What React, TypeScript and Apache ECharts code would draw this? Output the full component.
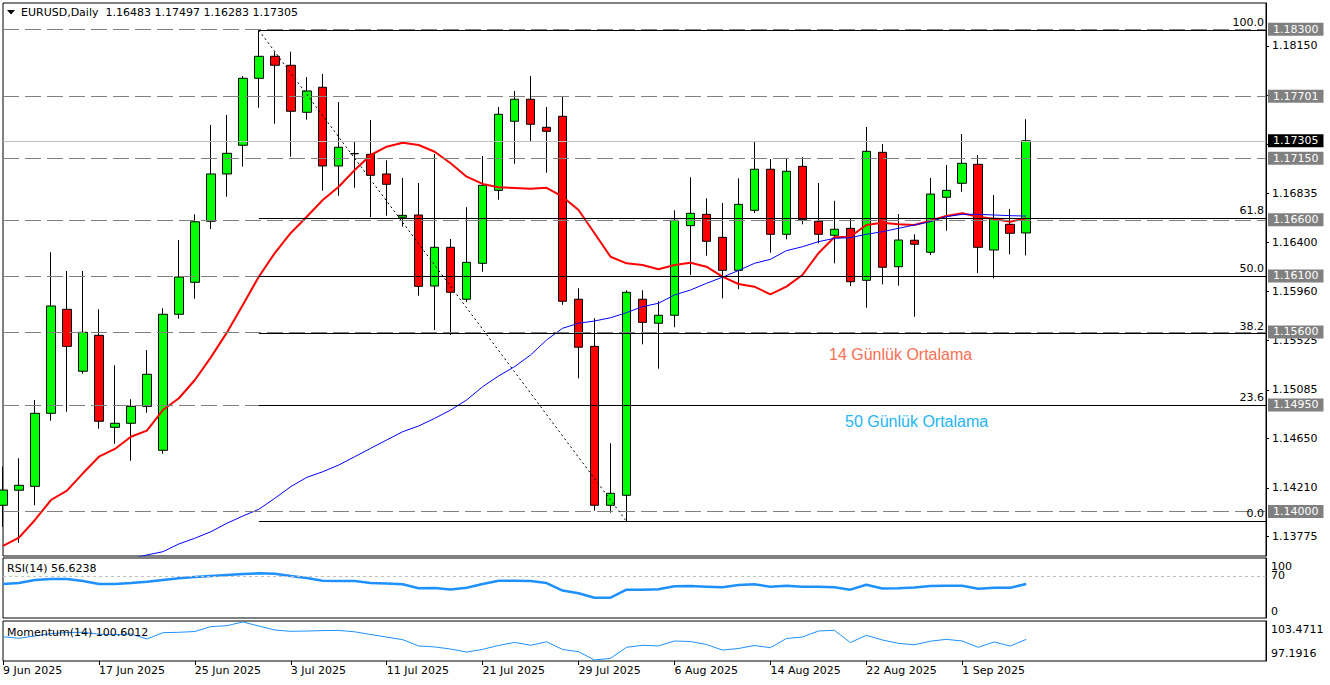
import React, { useEffect, useRef } from "react";
import * as echarts from "echarts";

const dates = [
  "9 Jun 2025","10 Jun 2025","11 Jun 2025","12 Jun 2025","13 Jun 2025","16 Jun 2025","17 Jun 2025","18 Jun 2025","19 Jun 2025","20 Jun 2025",
  "23 Jun 2025","24 Jun 2025","25 Jun 2025","26 Jun 2025","27 Jun 2025","30 Jun 2025","1 Jul 2025","2 Jul 2025","3 Jul 2025","4 Jul 2025",
  "7 Jul 2025","8 Jul 2025","9 Jul 2025","10 Jul 2025","11 Jul 2025","14 Jul 2025","15 Jul 2025","16 Jul 2025","17 Jul 2025","18 Jul 2025",
  "21 Jul 2025","22 Jul 2025","23 Jul 2025","24 Jul 2025","25 Jul 2025","28 Jul 2025","29 Jul 2025","30 Jul 2025","31 Jul 2025","1 Aug 2025",
  "4 Aug 2025","5 Aug 2025","6 Aug 2025","7 Aug 2025","8 Aug 2025","11 Aug 2025","12 Aug 2025","13 Aug 2025","14 Aug 2025","15 Aug 2025",
  "18 Aug 2025","19 Aug 2025","20 Aug 2025","21 Aug 2025","22 Aug 2025","25 Aug 2025","26 Aug 2025","27 Aug 2025","28 Aug 2025","29 Aug 2025",
  "1 Sep 2025","2 Sep 2025","3 Sep 2025","4 Sep 2025","5 Sep 2025"
];
const emptySlots = 15;

const opens = [
  1.14055,1.14189,1.14224,1.14875,1.15802,1.15250,1.15570,1.14750,1.14786,1.14937,
  1.14545,1.15758,1.16043,1.16587,1.17009,1.17265,1.17862,1.18058,1.17978,1.17559,
  1.17782,1.17080,1.17190,1.17184,1.17009,1.16623,1.16643,1.16010,1.16355,1.15892,
  1.16212,1.16863,1.17479,1.17675,1.17425,1.17523,1.15892,1.15472,1.14055,1.14144,
  1.15892,1.15678,1.15749,1.16548,1.16649,1.16444,1.16150,1.16685,1.17051,1.16471,
  1.17077,1.16587,1.16462,1.16524,1.16061,1.17202,1.16182,1.16418,1.16311,1.16801,
  1.16926,1.17095,1.16331,1.16560,1.16483
];
const highs = [
  1.14399,1.14474,1.14994,1.16311,1.16144,1.16144,1.15802,1.15303,1.15000,1.15439,
  1.15811,1.16420,1.16649,1.17446,1.17535,1.17882,1.18290,1.18099,1.18099,1.17873,
  1.17900,1.17651,1.17294,1.17490,1.17131,1.16973,1.16928,1.17187,1.16429,1.16712,
  1.17169,1.17606,1.17749,1.17882,1.17606,1.17695,1.15990,1.15722,1.14608,1.15972,
  1.15972,1.15874,1.16685,1.16979,1.16792,1.16750,1.16970,1.17300,1.17142,1.17142,
  1.17158,1.16928,1.16770,1.16614,1.17428,1.17276,1.16652,1.16471,1.16973,1.17089,
  1.17365,1.17178,1.16821,1.16697,1.17497
];
const lows = [
  1.13864,1.13721,1.14055,1.14809,1.14889,1.15228,1.14738,1.14604,1.14452,1.14880,
  1.14515,1.15719,1.15897,1.16518,1.16806,1.17074,1.17600,1.17457,1.17163,1.17493,
  1.16860,1.16815,1.16886,1.16623,1.16637,1.16539,1.15924,1.15618,1.15573,1.15867,
  1.16138,1.16780,1.17100,1.17297,1.17020,1.15843,1.15187,1.14007,1.13989,1.13912,
  1.15490,1.15273,1.15642,1.16108,1.16280,1.15900,1.15981,1.16661,1.16307,1.16426,
  1.16560,1.16391,1.16212,1.16010,1.15817,1.16025,1.16013,1.15736,1.16286,1.16503,
  1.16851,1.16126,1.16079,1.16293,1.16283
];
const closes = [
  1.14191,1.14233,1.14875,1.15832,1.15472,1.15597,1.14804,1.14786,1.14937,1.15223,
  1.15758,1.16090,1.16583,1.17009,1.17193,1.17862,1.18058,1.17978,1.17568,1.17749,
  1.17080,1.17247,1.17190,1.16997,1.16917,1.16640,1.16007,1.16355,1.15954,1.16221,
  1.16908,1.17541,1.17675,1.17452,1.17389,1.15874,1.15464,1.14055,1.14162,1.15954,
  1.15686,1.15749,1.16596,1.16658,1.16409,1.16150,1.16738,1.17051,1.16471,1.17033,
  1.16601,1.16471,1.16516,1.16048,1.17211,1.16177,1.16420,1.16382,1.16830,1.16863,
  1.17104,1.16355,1.16614,1.16480,1.17305
];

const ma14 = [
  1.13692,1.13766,1.13924,1.14102,1.14185,1.14340,1.14488,1.14557,1.14666,1.14720,
  1.14904,1.15009,1.15172,1.15374,1.15594,1.15841,1.16093,1.16304,1.16483,1.16628,
  1.16777,1.16895,1.17044,1.17178,1.17252,1.17288,1.17267,1.17207,1.17104,1.16985,
  1.16920,1.16890,1.16884,1.16878,1.16886,1.16806,1.16688,1.16480,1.16271,1.16212,
  1.16197,1.16159,1.16197,1.16218,1.16182,1.16093,1.16028,1.16004,1.15936,1.16004,
  1.16108,1.16302,1.16444,1.16450,1.16554,1.16574,1.16560,1.16554,1.16592,1.16634,
  1.16658,1.16628,1.16607,1.16583,1.16614
];
const ma50 = [
  null,null,null,null,null,null,null,null,1.13576,1.13612,
  1.13641,1.13710,1.13761,1.13819,1.13894,1.13959,1.14019,1.14117,1.14221,1.14304,
  1.14354,1.14414,1.14488,1.14563,1.14637,1.14711,1.14762,1.14830,1.14904,1.14994,
  1.15112,1.15208,1.15291,1.15395,1.15529,1.15633,1.15678,1.15698,1.15727,1.15772,
  1.15826,1.15856,1.15930,1.15974,1.16034,1.16088,1.16148,1.16212,1.16248,1.16325,
  1.16360,1.16405,1.16435,1.16441,1.16471,1.16494,1.16524,1.16554,1.16583,1.16628,
  1.16649,1.16649,1.16643,1.16637,1.16634
];
const rsi = [
  56.7,58.3,63.3,65.0,65.0,61.7,56.7,56.7,58.3,60.5,
  63.3,66.1,68.3,70.0,71.7,73.3,74.5,73.8,70.0,66.7,
  62.2,61.7,61.7,58.3,57.5,56.2,49.5,50.0,47.5,50.5,
  56.7,62.2,62.2,61.7,58.3,45.8,41.2,33.8,33.8,47.2,
  47.2,47.8,52.8,53.3,52.2,51.1,55.0,56.1,52.2,53.8,
  52.2,52.2,51.1,47.2,55.5,49.2,49.5,50.8,53.3,53.8,
  53.8,48.8,50.5,50.5,56.6238
];
const momentum = [
  101.04,100.78,101.16,101.54,101.74,101.77,101.45,101.37,101.49,100.66,
  101.70,101.77,101.90,102.71,102.86,103.4711,102.81,102.15,101.93,101.98,
  102.05,102.08,101.85,101.40,100.98,100.55,99.51,99.35,99.00,98.50,
  98.95,99.60,100.10,99.62,100.20,98.93,98.56,97.1916,97.47,99.29,
  99.62,99.51,100.33,100.25,99.75,98.84,99.09,99.59,99.22,100.74,
  100.99,101.98,102.10,100.08,101.27,100.50,99.95,99.70,100.30,100.60,
  100.33,99.29,100.17,99.50,100.6012
];

const priceLevels = [1.183, 1.17701, 1.1715, 1.166, 1.161, 1.156, 1.1495, 1.14];
const lastPrice = 1.17305;
const fibHigh = 1.1829;
const fibLow = 1.13912;
const fibHighIndex = 16;
const fibLowIndex = 39;
const fibRatios = [100, 61.8, 50, 38.2, 23.6, 0];
const priceTickValues = [1.13775, 1.1421, 1.1465, 1.15085, 1.15525, 1.1596, 1.164, 1.16835, 1.17275, 1.17712, 1.1815];
const priceLabelValues = [1.13775, 1.1421, 1.1465, 1.15085, 1.15525, 1.1596, 1.164, 1.16835, 1.1815];
const rsiLowerLabelValues = [0, 70];
const rsiTopLabelValues = [100];
const rsiLevel = 70;
const momentumLabelValues = [97.1916, 103.4711];
const dateLabelStep = 6;
const titleText = "EURUSD,Daily  1.16483 1.17497 1.16283 1.17305";
const rsiTitle = "RSI(14) 56.6238";
const momentumTitle = "Momentum(14) 100.6012";
const ma14Text = "14 Günlük Ortalama";
const ma50Text = "50 Günlük Ortalama";

const FONT = '"DejaVu Sans", Tahoma, sans-serif';

export default function App() {
  const ref = useRef<HTMLDivElement>(null);

  useEffect(() => {
    if (!ref.current) return;
    const chart = echarts.init(ref.current, null, { renderer: "svg" });
    const cats = dates.concat(Array.from({ length: emptySlots }, (_, i) => "f" + i));
    const lastIdx = cats.length - 1;
    const ohlc = dates.map((_, i) => [opens[i], closes[i], lows[i], highs[i]]);

    const boxLabel = (text: string, bg: string) => ({
      show: true,
      position: "end",
      distance: 2,
      formatter: text,
      color: "#fff",
      backgroundColor: bg,
      padding: [0, 5, 0, 5],
      lineHeight: 13,
      fontSize: 11,
      fontFamily: FONT,
    });

    const levelLines = priceLevels.map((v) => ({
      yAxis: v,
      lineStyle: { color: "#808080", type: [16, 6], width: 1 },
      label: boxLabel(v.toFixed(5), "#808080"),
    }));
    const lastLine = {
      yAxis: lastPrice,
      lineStyle: { color: "#C0C0C0", type: "solid", width: 1 },
      label: boxLabel(lastPrice.toFixed(5), "#000"),
    };
    const fibLines = fibRatios.map((r) => {
      const p = fibLow + (r / 100) * (fibHigh - fibLow);
      const common = {
        lineStyle: { color: "#000", type: "solid", width: 1 },
        label: {
          show: true,
          position: "insideEndTop",
          distance: 2,
          formatter: r.toFixed(1),
          color: "#000",
          fontSize: 11,
          fontFamily: FONT,
        },
      };
      return [
        { coord: [fibHighIndex, p], ...common },
        { coord: [lastIdx, p], ...common },
      ];
    });
    const diag = [
      { coord: [fibHighIndex, fibHigh], lineStyle: { color: "#000", type: [2, 3], width: 1 }, label: { show: false } },
      { coord: [fibLowIndex, fibLow], lineStyle: { color: "#000", type: [2, 3], width: 1 }, label: { show: false } },
    ];

    const xBase = {
      type: "category",
      data: cats,
      boundaryGap: false,
      axisLine: { show: false },
      axisTick: { show: false },
      axisLabel: { show: false },
      splitLine: { show: false },
    };

    const smallLabel = { color: "#000", fontSize: 11, fontFamily: FONT };

    const option: any = {
      animation: false,
      backgroundColor: "#fff",
      textStyle: { fontFamily: FONT },
      grid: [
        { left: 3, right: 64, top: 3, height: 553, show: true, borderColor: "#000", borderWidth: 1 },
        { left: 3, right: 64, top: 558, height: 60, show: true, borderColor: "#000", borderWidth: 1 },
        { left: 3, right: 64, top: 621, height: 40, show: true, borderColor: "#000", borderWidth: 1 },
      ],
      xAxis: [
        { ...xBase, gridIndex: 0 },
        { ...xBase, gridIndex: 1 },
        {
          ...xBase,
          gridIndex: 2,
          axisTick: {
            show: true,
            length: 4,
            lineStyle: { color: "#000" },
            interval: (idx: number) => idx % dateLabelStep === 0 && idx < dates.length,
          },
          axisLabel: {
            show: true,
            align: "left",
            margin: 4,
            ...smallLabel,
            interval: (idx: number) => idx % dateLabelStep === 0 && idx < dates.length,
          },
        },
      ],
      yAxis: [
        {
          type: "value",
          gridIndex: 0,
          position: "right",
          min: 1.136027,
          max: 1.185333,
          splitLine: { show: false },
          axisLine: { show: true, lineStyle: { color: "#000" } },
          axisTick: { show: true, length: 3, lineStyle: { color: "#000" }, customValues: priceTickValues },
          axisLabel: {
            ...smallLabel,
            margin: 6,
            showMinLabel: true,
            showMaxLabel: true,
            customValues: priceLabelValues,
            formatter: (v: number) => v.toFixed(5),
          },
        },
        {
          type: "value",
          gridIndex: 1,
          position: "right",
          min: 0,
          max: 100,
          splitLine: { show: false },
          axisLine: { show: true, lineStyle: { color: "#000" } },
          axisTick: { show: false },
          axisLabel: {
            ...smallLabel,
            margin: 5,
            showMinLabel: true,
            showMaxLabel: true,
            customValues: rsiLowerLabelValues,
            formatter: (v: number) => (v === 0 ? "{b|0}" : "{m|" + v + "}"),
            rich: {
              b: { ...smallLabel, padding: [0, 0, 14, 0], lineHeight: 13 },
              m: { ...smallLabel, padding: [0, 0, 2, 0], lineHeight: 13 },
            },
          },
        },
        {
          type: "value",
          gridIndex: 2,
          position: "right",
          min: 97.026,
          max: 103.636,
          splitLine: { show: false },
          axisLine: { show: true, lineStyle: { color: "#000" } },
          axisTick: { show: false },
          axisLabel: {
            ...smallLabel,
            margin: 5,
            showMinLabel: true,
            showMaxLabel: true,
            customValues: momentumLabelValues,
            formatter: (v: number) => (v > 100 ? "{t|" + v.toFixed(4) + "}" : "{b|" + v.toFixed(4) + "}"),
            rich: {
              t: { ...smallLabel, padding: [16, 0, 0, 0], lineHeight: 13 },
              b: { ...smallLabel, padding: [0, 0, 12, 0], lineHeight: 13 },
            },
          },
        },
        {
          type: "value",
          gridIndex: 1,
          position: "right",
          min: 0,
          max: 100,
          splitLine: { show: false },
          axisLine: { show: false },
          axisTick: { show: false },
          axisLabel: {
            ...smallLabel,
            margin: 5,
            showMinLabel: true,
            showMaxLabel: true,
            customValues: rsiTopLabelValues,
            formatter: (v: number) => "{t|" + v + "}",
            rich: {
              t: { ...smallLabel, padding: [16, 0, 0, 0], lineHeight: 13 },
            },
          },
        },
      ],
      series: [
        {
          type: "candlestick",
          xAxisIndex: 0,
          yAxisIndex: 0,
          data: ohlc,
          barWidth: 9,
          silent: true,
          z: 2,
          itemStyle: {
            color: "#00FF00",
            color0: "#FF0000",
            borderColor: "#000",
            borderColor0: "#000",
            borderWidth: 1,
          },
        },
        {
          type: "line",
          name: "MA14",
          xAxisIndex: 0,
          yAxisIndex: 0,
          data: ma14,
          showSymbol: false,
          silent: true,
          z: 3,
          lineStyle: { color: "#FF0000", width: 2 },
        },
        {
          type: "line",
          name: "MA50",
          xAxisIndex: 0,
          yAxisIndex: 0,
          data: ma50,
          showSymbol: false,
          silent: true,
          z: 3,
          lineStyle: { color: "#0000FF", width: 1 },
        },
        {
          type: "line",
          name: "objects",
          xAxisIndex: 0,
          yAxisIndex: 0,
          data: dates.map(() => null),
          showSymbol: false,
          silent: true,
          z: 4,
          markLine: {
            silent: true,
            precision: 5,
            symbol: ["none", "none"],
            animation: false,
            data: [...levelLines, lastLine, ...fibLines, diag],
          },
        },
        {
          type: "line",
          name: "RSI",
          xAxisIndex: 1,
          yAxisIndex: 1,
          data: rsi,
          showSymbol: false,
          silent: true,
          lineStyle: { color: "#1E90FF", width: 2.5 },
          markLine: {
            silent: true,
            symbol: ["none", "none"],
            animation: false,
            data: [
              { yAxis: rsiLevel, lineStyle: { color: "#C0C0C0", type: [3, 3], width: 1 }, label: { show: false } },
            ],
          },
        },
        {
          type: "line",
          name: "Momentum",
          xAxisIndex: 2,
          yAxisIndex: 2,
          data: momentum,
          showSymbol: false,
          silent: true,
          lineStyle: { color: "#1E90FF", width: 1 },
        },
      ],
      graphic: [
        { type: "polygon", shape: { points: [[7, 10], [15, 10], [11, 14.5]] }, style: { fill: "#000" } },
        { type: "text", x: 21, y: 12.5, style: { text: titleText, fontSize: 11, fontFamily: FONT, fill: "#000", verticalAlign: "middle" } },
        { type: "text", x: 7, y: 568, z: 10, style: { text: rsiTitle, fontSize: 11, fontFamily: FONT, fill: "#000", verticalAlign: "middle" } },
        { type: "text", x: 7, y: 632, z: 10, style: { text: momentumTitle, fontSize: 11, fontFamily: FONT, fill: "#000", verticalAlign: "middle" } },
        { type: "text", x: 829, y: 354, style: { text: ma14Text, fontSize: 16, fontFamily: '"Liberation Sans", Arial, sans-serif', fill: "#FA6E52", verticalAlign: "middle" } },
        { type: "text", x: 845, y: 421, style: { text: ma50Text, fontSize: 16, fontFamily: '"Liberation Sans", Arial, sans-serif', fill: "#1EB4F5", verticalAlign: "middle" } },
      ],
    };

    chart.setOption(option);
    return () => chart.dispose();
  }, []);

  return (
    <div
      ref={ref}
      style={{ position: "absolute", left: 0, top: 0, width: 1330, height: 685, background: "#fff" }}
    />
  );
}
